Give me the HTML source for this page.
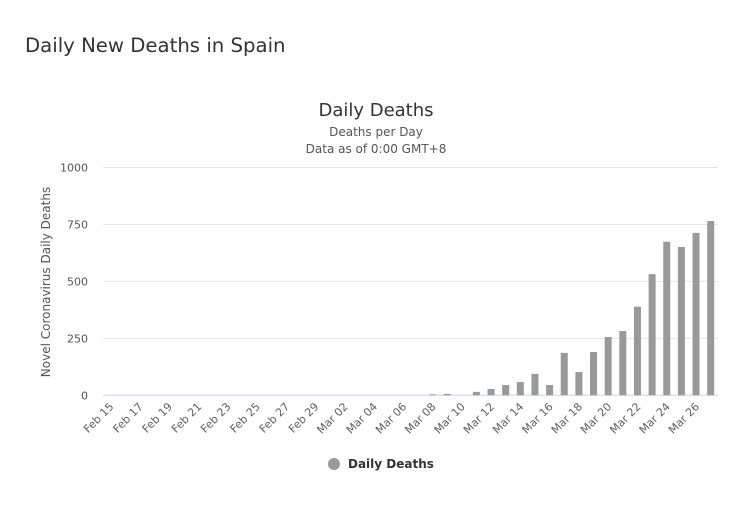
<!DOCTYPE html>
<html><head><meta charset="utf-8"><style>
body{margin:0;background:#fff;width:740px;height:508px;overflow:hidden;font-family:"DejaVu Sans","Liberation Sans",sans-serif;}
h1{position:absolute;left:25px;top:34px;margin:0;font-size:19.7px;font-weight:normal;color:#333;}
svg{position:absolute;left:0;top:0;}
</style></head><body>
<h1>Daily New Deaths in Spain</h1>
<svg id="c" width="740" height="508">
<text x="376" y="116" text-anchor="middle" font-size="18" fill="#333">Daily Deaths</text>
<text x="376" y="136" text-anchor="middle" font-size="12" fill="#555">Deaths per Day</text>
<text x="376" y="153" text-anchor="middle" font-size="12" fill="#555">Data as of 0:00 GMT+8</text>
<text transform="translate(50,282) rotate(-90)" text-anchor="middle" font-size="12" fill="#555">Novel Coronavirus Daily Deaths</text>
<g id="legend">
<circle cx="334" cy="464" r="6" fill="#999"/>
<text x="348" y="468" font-size="12" font-weight="bold" fill="#333">Daily Deaths</text>
</g>
</svg>
<script>
const categories=[];
for(let d=15;d<=29;d++)categories.push('Feb '+String(d).padStart(2,'0'));
for(let d=1;d<=27;d++)categories.push('Mar '+String(d).padStart(2,'0'));
const values=[0,0,0,0,0,0,0,0,0,0,0,0,0,0,0, 0,0,0,0,0,0,0,4,6,0,15,28,45,58,94,45,186,102,190,256,282,389,532,674,651,713,765];
const yTicks=[0,250,500,750,1000];
const svg=document.getElementById('c');const NS='http://www.w3.org/2000/svg';
const x0=103,x1=718,yB=395.3,yT=167.5,yMax=1000;
const bw=(x1-x0)/categories.length;
const xs=i=>x0+(i+0.5)*bw;
const ys=v=>yB-(v/yMax)*(yB-yT);
function el(t,a){const e=document.createElementNS(NS,t);for(const k in a)e.setAttribute(k,a[k]);svg.appendChild(e);return e;}
yTicks.forEach(t=>{
 const l=el('line',{x1:x0,x2:x1,y1:ys(t),y2:ys(t),stroke:t===0?'#ccd6eb':'#e6e6e6','stroke-width':1});
 
 
 const tx=el('text',{x:88,y:ys(t)+4,'text-anchor':'end','font-size':11,fill:'#555'});tx.textContent=t;
 
 
});
values.forEach((v,i)=>{
 if(v<=0)return;
 const r=el('rect',{x:xs(i)-3.5,y:ys(v),width:7,height:yB-ys(v),fill:'#999'});
 
 
});
categories.forEach((c,i)=>{
 if(i%2)return;
 const x=xs(i)+4,y=yB+12;
 const t=el('text',{x:x,y:y,'text-anchor':'end','font-size':11,fill:'#606060',transform:`rotate(-45 ${x} ${y})`});t.textContent=c;
 
 
});
</script>
</body></html>
